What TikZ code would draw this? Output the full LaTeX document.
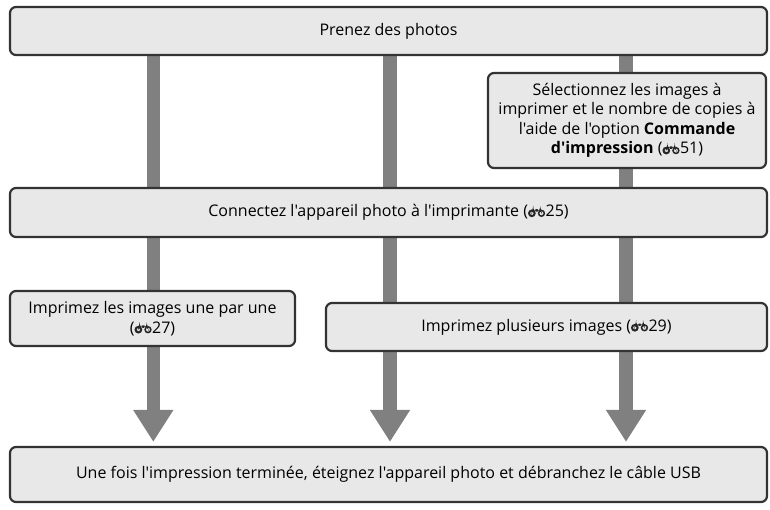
\documentclass[tikz,border=0pt]{standalone}
\usepackage{fontspec}
\newfontfamily\mainf{Open Sans}
\usetikzlibrary{arrows.meta,backgrounds}
\definecolor{boxfill}{RGB}{232,232,232}
\definecolor{boxline}{RGB}{51,51,51}
\definecolor{bargray}{RGB}{128,128,128}
\newcommand{\bino}{\tikz[baseline=0pt,x=1pt,y=1pt,draw=black!85]{%
  \draw[line width=2pt] (3.4,3.4) circle (2.8);
  \draw[line width=1.5pt] (13,3.4) circle (2.9);
  \fill[black!85] (3.4,5.2) -- (13,5.2) -- (12.4,7.6) -- (4,7.6) -- cycle;}\hspace{0.5pt}}
\begin{document}
\begin{tikzpicture}[x=1pt,y=-1pt,
  font=\mainf\fontsize{16}{19.5}\selectfont,
  box/.style={draw=boxline, fill=boxfill, line width=2.2pt, rounded corners=6pt,
    inner sep=0pt, align=center},
  flowbar/.style={draw=bargray, line width=13.5pt, shorten >=4pt,
    -{Triangle[width=38pt,length=32pt]}}]
\useasboundingbox (0,0) rectangle (770,509);
\node[box, minimum width=757pt, minimum height=48pt] (top) at (388.5,31) {Prenez des photos};
\node[box, minimum width=278pt, minimum height=95pt] (sel) at (627,120.5)
  {Sélectionnez les images à\\imprimer et le nombre de copies à\\l'aide de l'option \textbf{Commande}\\\textbf{d'impression} (\bino51)};
\node[box, minimum width=757pt, minimum height=49pt] (conn) at (388.5,212.5)
  {Connectez l'appareil photo à l'imprimante (\bino25)};
\node[box, minimum width=285pt, minimum height=55pt] (one) at (152.5,318.5)
  {Imprimez les images une par une\\(\bino27)};
\node[box, minimum width=441pt, minimum height=48pt] (multi) at (546.5,327)
  {Imprimez plusieurs images (\bino29)};
\node[box, minimum width=757pt, minimum height=55pt] (bot) at (388.5,474.5)
  {Une fois l'impression terminée, éteignez l'appareil photo et débranchez le câble USB};
\coordinate (xl) at (153.3,0);
\coordinate (xm) at (390,0);
\coordinate (xr) at (626,0);
\begin{scope}[on background layer]
\draw[flowbar] (top.south -| xl) -- (bot.north -| xl);
\draw[flowbar] (top.south -| xm) -- (bot.north -| xm);
\draw[flowbar] (top.south -| xr) -- (bot.north -| xr);
\end{scope}
\end{tikzpicture}
\end{document}
